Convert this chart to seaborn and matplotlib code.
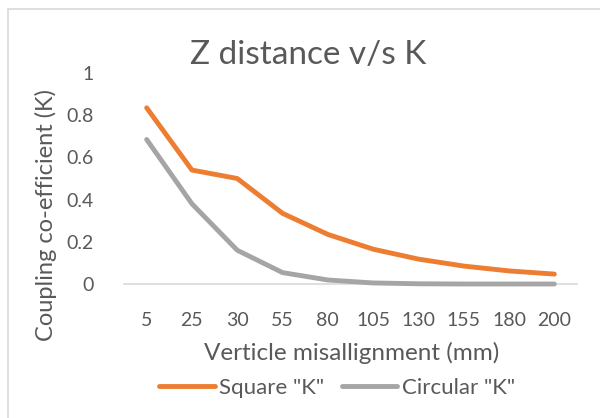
import matplotlib
matplotlib.use("Agg")
import matplotlib.pyplot as plt
import seaborn as sns
import pandas as pd
from matplotlib.patches import Rectangle
from matplotlib.lines import Line2D

distances = ["5", "25", "30", "55", "80", "105", "130", "155", "180", "200"]
square_k = [0.835, 0.54, 0.50, 0.335, 0.235, 0.165, 0.118, 0.085, 0.062, 0.047]
circular_k = [0.685, 0.38, 0.16, 0.054, 0.019, 0.005, 0.001, 0.0, 0.0, 0.0]
series_names = ['Square "K"', 'Circular "K"']
colors = ["#ED7D31", "#A5A5A5"]

sns.set_style("white")
plt.rcParams['font.family'] = ['Lato', 'DejaVu Sans']
text_color = "#595959"

df = pd.DataFrame({
    "dist": distances * 2,
    "pos": list(range(len(distances))) * 2,
    "K": square_k + circular_k,
    "series": [series_names[0]] * len(distances) + [series_names[1]] * len(distances),
})

fig = plt.figure(figsize=(6.0, 4.18), dpi=100)
ax = fig.add_axes([124 / 600, 1 - 284 / 418, (577 - 124) / 600, (284 - 73) / 418])

sns.lineplot(data=df, x="pos", y="K", hue="series", palette=colors,
             linewidth=3.5, ax=ax, legend=False, solid_capstyle="round")

ax.set_xlim(-0.5, len(distances) - 0.5)
ax.set_ylim(0, 1)
ax.set_xticks(range(len(distances)))
ax.set_xticklabels(distances)
ax.set_yticks([0, 0.2, 0.4, 0.6, 0.8, 1])
ax.set_yticklabels(["0", "0.2", "0.4", "0.6", "0.8", "1"])
ax.tick_params(axis="both", length=0, labelsize=14, colors=text_color)
ax.tick_params(axis="x", pad=20)
ax.tick_params(axis="y", pad=22)
for s in ["top", "right", "left"]:
    ax.spines[s].set_visible(False)
ax.spines["bottom"].set_color("#D9D9D9")
ax.spines["bottom"].set_linewidth(1.2)
ax.spines["bottom"].set_zorder(0)
ax.set_xlabel("")
ax.set_ylabel("")
ax.patch.set_alpha(0)
for ln in ax.get_lines():
    ln.set_clip_on(False)

fig.text(308 / 600, 1 - 55 / 418, "Z distance v/s K", ha="center", va="center",
         fontsize=24, color=text_color)
fig.text(352 / 600, 1 - 353 / 418, "Verticle misallignment (mm)", ha="center", va="center",
         fontsize=17.5, color=text_color)
fig.text(46 / 600, 1 - 215 / 418, "Coupling co-efficient (K)", ha="center", va="center",
         rotation=90, fontsize=17, color=text_color)

handles = [Line2D([0], [0], color=c, lw=3.5, solid_capstyle="round") for c in colors]
fig.legend(handles, series_names, loc="center", bbox_to_anchor=(337 / 600, 1 - 388 / 418),
           ncol=2, frameon=False, fontsize=16, handlelength=2.5, handletextpad=0.2,
           columnspacing=0.8, labelcolor=text_color)

fig.patches.append(Rectangle((8 / 600, -0.1), 1.2, 1 - 9 / 418 + 0.1,
                             transform=fig.transFigure, fill=False,
                             edgecolor="#D9D9D9", linewidth=1.2))

fig.savefig("out.png", dpi=100, facecolor="white")
